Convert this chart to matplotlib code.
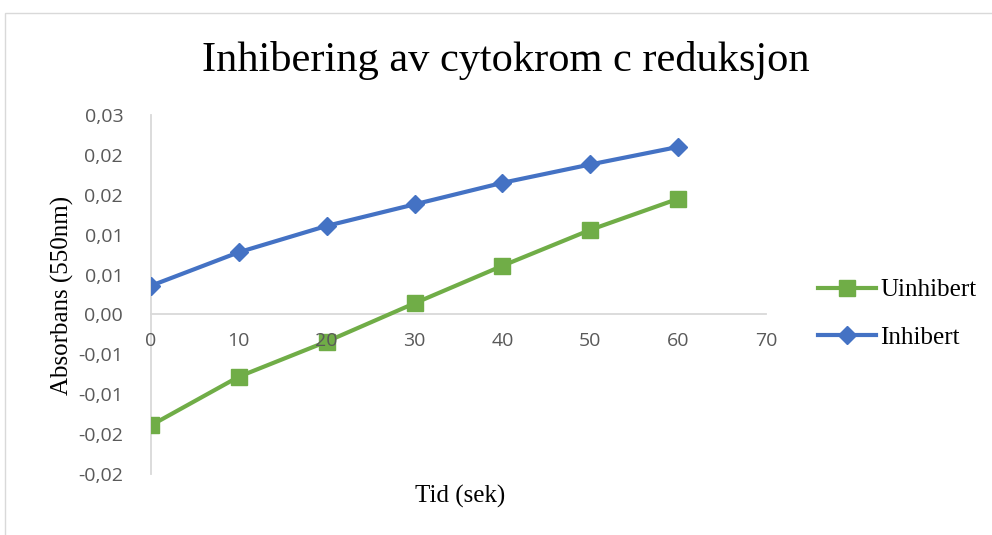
import matplotlib.pyplot as plt
from matplotlib.patches import Rectangle

# data
tid = [0, 10, 20, 30, 40, 50, 60]
uinhibert = [-0.0139, -0.0078, -0.0034, 0.0014, 0.0061, 0.0106, 0.0145]
inhibert = [0.0036, 0.0078, 0.0111, 0.0138, 0.0165, 0.0188, 0.0210]

x_ticks = [0, 10, 20, 30, 40, 50, 60, 70]
y_ticks = [-0.02, -0.015, -0.01, -0.005, 0.0, 0.005, 0.01, 0.015, 0.02, 0.025]
y_labels = ["-0,02", "-0,02", "-0,01", "-0,01", "0,00", "0,01", "0,01", "0,02", "0,02", "0,03"]

green = '#70AD47'
blue = '#4472C4'
grey_txt = '#595959'
grey_line = '#D9D9D9'
serif = 'Liberation Serif'
tick_font = 'Open Sans'

W, H = 992, 535
fig = plt.figure(figsize=(W / 100, H / 100), dpi=100)

# chart area border
fig.patches.append(Rectangle((4.5 / W, -0.1), 2, 1.1 - 12.5 / H, transform=fig.transFigure,
                             fill=False, edgecolor=grey_line, linewidth=1.0))

ax = fig.add_axes([151 / W, 1 - 474 / H, (766 - 151) / W, (474 - 115) / H])

ax.plot(tid, uinhibert, color=green, linewidth=3.0, marker='s', markersize=11,
        label='Uinhibert', zorder=2.2)
ax.plot(tid, inhibert, color=blue, linewidth=3.0, marker='D', markersize=9,
        label='Inhibert', zorder=2.2)

ax.set_xlim(0, 70)
ax.set_ylim(-0.02, 0.025)

for s in ['top', 'right']:
    ax.spines[s].set_visible(False)
ax.spines['bottom'].set_position(('data', 0))
ax.spines['bottom'].set_color(grey_line)
ax.spines['left'].set_color(grey_line)
ax.spines['bottom'].set_linewidth(1.3)
ax.spines['left'].set_linewidth(1.3)
ax.spines['bottom'].set_zorder(1)
ax.spines['left'].set_zorder(1)

ax.set_xticks(x_ticks)
ax.set_xticklabels([str(v) for v in x_ticks], fontfamily=tick_font, fontsize=14, color=grey_txt)
ax.set_yticks(y_ticks)
ax.set_yticklabels(y_labels, fontfamily=tick_font, fontsize=14, color=grey_txt)
ax.tick_params(axis='x', length=0, pad=13)
ax.tick_params(axis='y', length=0, pad=20)
ax.xaxis.set_zorder(3)
ax.patch.set_visible(False)

fig.text(506 / W, 1 - 60 / H, 'Inhibering av cytokrom c reduksjon', fontfamily=serif,
         fontsize=30.5, ha='center', va='center')
fig.text(460 / W, 1 - 496 / H, 'Tid (sek)', fontfamily=serif, fontsize=18,
         ha='center', va='center')
fig.text(62 / W, 1 - 295 / H, 'Absorbans (550nm)', fontfamily=serif, fontsize=18,
         rotation=90, ha='center', va='center')

fig.legend(loc='center left', bbox_to_anchor=(818 / W, 1 - 314 / H), frameon=False,
           prop={'family': serif, 'size': 18}, handlelength=2.3, handletextpad=0.2,
           labelspacing=1.0, borderpad=0, borderaxespad=0)

fig.savefig('out.png', dpi=100)
